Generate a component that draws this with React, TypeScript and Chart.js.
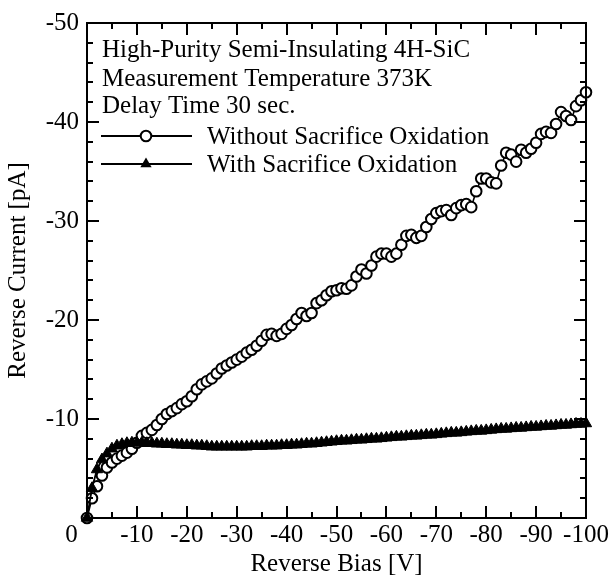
import React, { useEffect, useRef } from 'react';
import { Chart, registerables } from 'chart.js';

Chart.register(...registerables);

const FONT = '"Liberation Serif", "Times New Roman", serif';

const biasV = [
  0, 1, 2, 3, 4, 5, 6, 7, 8, 9,
  10, 11, 12, 13, 14, 15, 16, 17, 18, 19,
  20, 21, 22, 23, 24, 25, 26, 27, 28, 29,
  30, 31, 32, 33, 34, 35, 36, 37, 38, 39,
  40, 41, 42, 43, 44, 45, 46, 47, 48, 49,
  50, 51, 52, 53, 54, 55, 56, 57, 58, 59,
  60, 61, 62, 63, 64, 65, 66, 67, 68, 69,
  70, 71, 72, 73, 74, 75, 76, 77, 78, 79,
  80, 81, 82, 83, 84, 85, 86, 87, 88, 89,
  90, 91, 92, 93, 94, 95, 96, 97, 98, 99,
  100,
];

const currentWithout = [
  0, 2.0, 3.2, 4.3, 5.1, 5.6, 6.0, 6.3, 6.6, 7.0,
  7.6, 8.3, 8.6, 8.9, 9.4, 10.0, 10.5, 10.8, 11.1, 11.5,
  11.8, 12.3, 13.0, 13.5, 13.8, 14.1, 14.6, 15.1, 15.4, 15.7,
  16.0, 16.3, 16.7, 17.0, 17.4, 17.9, 18.5, 18.6, 18.4, 18.6,
  19.1, 19.5, 20.1, 20.7, 20.4, 20.7, 21.7, 22.0, 22.5, 22.9,
  23.0, 23.2, 23.15, 23.5, 24.4, 25.1, 24.7, 25.5, 26.4, 26.7,
  26.7, 26.4, 26.7, 27.6, 28.5, 28.6, 28.3, 28.5, 29.4, 30.2,
  30.8, 31.0, 31.1, 30.6, 31.3, 31.6, 31.7, 31.4, 33.0, 34.3,
  34.3, 33.9, 33.8, 35.6, 36.9, 36.7, 36.0, 37.2, 36.9, 37.3,
  37.9, 38.8, 39.0, 38.9, 39.8, 41.0, 40.6, 40.2, 41.6, 42.2,
  43.0,
];

const currentWith = [
  0, 3.0, 4.9, 5.9, 6.5, 7.0, 7.3, 7.45, 7.55, 7.6,
  7.6, 7.6, 7.55, 7.55, 7.5, 7.5, 7.45, 7.45, 7.4, 7.4,
  7.35, 7.35, 7.3, 7.3, 7.25, 7.2, 7.2, 7.2, 7.2, 7.2,
  7.2, 7.2, 7.2, 7.25, 7.25, 7.25, 7.3, 7.3, 7.3, 7.35,
  7.35, 7.4, 7.4, 7.45, 7.5, 7.5, 7.55, 7.6, 7.65, 7.7,
  7.75, 7.8, 7.8, 7.85, 7.9, 7.9, 7.95, 8.0, 8.0, 8.05,
  8.1, 8.15, 8.2, 8.2, 8.25, 8.3, 8.3, 8.35, 8.4, 8.4,
  8.45, 8.5, 8.55, 8.6, 8.6, 8.65, 8.7, 8.75, 8.8, 8.8,
  8.85, 8.9, 8.95, 9.0, 9.0, 9.05, 9.1, 9.1, 9.15, 9.2,
  9.2, 9.25, 9.3, 9.3, 9.35, 9.4, 9.4, 9.45, 9.5, 9.5,
  9.55,
];

const xTickValues = [0, 10, 20, 30, 40, 50, 60, 70, 80, 90, 100];
const xTickLabels = ['0     ', '-10', '-20', '-30', '-40', '-50', '-60', '-70', '-80', '-90', '-100'];
const yTickValues = [0, 10, 20, 30, 40, 50];
const yTickLabels = ['', '-10', '-20', '-30', '-40', '-50'];

const annotationLines = [
  'High-Purity Semi-Insulating 4H-SiC',
  'Measurement Temperature 373K',
  'Delay Time 30 sec.',
];
const seriesNames = ['Without Sacrifice Oxidation', 'With Sacrifice Oxidation'];

function drawTriangle(ctx: CanvasRenderingContext2D, x: number, y: number, r: number) {
  ctx.beginPath();
  let rad = 0;
  ctx.moveTo(x + Math.sin(rad) * r, y - Math.cos(rad) * r);
  rad += (2 * Math.PI) / 3;
  ctx.lineTo(x + Math.sin(rad) * r, y - Math.cos(rad) * r);
  rad += (2 * Math.PI) / 3;
  ctx.lineTo(x + Math.sin(rad) * r, y - Math.cos(rad) * r);
  ctx.closePath();
  ctx.fill();
}

const framePlugin = {
  id: 'frameAndLegend',
  afterDraw(chart: any) {
    const ctx: CanvasRenderingContext2D = chart.ctx;
    const { left, right, top, bottom } = chart.chartArea;
    const xs = chart.scales.x;
    const ys = chart.scales.y;
    ctx.save();
    ctx.strokeStyle = '#000';
    ctx.fillStyle = '#000';
    ctx.lineWidth = 2;
    ctx.strokeRect(left, top, right - left, bottom - top);
    ctx.beginPath();
    for (let v = 0; v <= 100; v += 5) {
      const px = Math.round(xs.getPixelForValue(v));
      const len = v % 10 === 0 ? 12 : 6;
      ctx.moveTo(px, bottom);
      ctx.lineTo(px, bottom - len);
      ctx.moveTo(px, top);
      ctx.lineTo(px, top + len);
    }
    for (let v = 0; v <= 50; v += 2) {
      const py = Math.round(ys.getPixelForValue(v));
      const len = v % 10 === 0 ? 12 : 6;
      ctx.moveTo(left, py);
      ctx.lineTo(left + len, py);
      ctx.moveTo(right, py);
      ctx.lineTo(right - len, py);
    }
    ctx.stroke();

    // annotation text
    ctx.font = `25px ${FONT}`;
    ctx.textAlign = 'left';
    ctx.textBaseline = 'alphabetic';
    const baselines = [57, 86, 113];
    annotationLines.forEach((t, i) => ctx.fillText(t, 102, baselines[i]));

    // legend rows
    const rows = [136, 164];
    const textBase = [144, 172];
    rows.forEach((y, i) => {
      ctx.lineWidth = 1.8;
      ctx.beginPath();
      ctx.moveTo(101, y);
      ctx.lineTo(192, y);
      ctx.stroke();
      if (i === 0) {
        ctx.beginPath();
        ctx.arc(146, y, 5.3, 0, Math.PI * 2);
        ctx.fillStyle = '#fff';
        ctx.fill();
        ctx.lineWidth = 2;
        ctx.stroke();
        ctx.fillStyle = '#000';
      } else {
        drawTriangle(ctx, 146, y, 6.5);
      }
      ctx.fillText(seriesNames[i], 207, textBase[i]);
    });
    ctx.restore();
  },
};

export default function App() {
  const ref = useRef<HTMLCanvasElement | null>(null);
  useEffect(() => {
    document.body.style.margin = '0';
    const canvas = ref.current;
    if (!canvas) return;
    const withoutPts = biasV.map((x, i) => ({ x, y: currentWithout[i] }));
    const withPts = biasV.map((x, i) => ({ x, y: currentWith[i] }));
    const chart = new Chart(canvas, {
      type: 'line',
      data: {
        datasets: [
          {
            label: seriesNames[1],
            data: withPts,
            borderColor: '#000',
            backgroundColor: '#000',
            borderWidth: 1.8,
            pointStyle: 'triangle',
            pointRadius: 6.5,
            pointBackgroundColor: '#000',
            pointBorderColor: '#000',
            pointBorderWidth: 1,
            tension: 0,
            clip: false as any,
          },
          {
            label: seriesNames[0],
            data: withoutPts,
            borderColor: '#000',
            backgroundColor: '#fff',
            borderWidth: 1.6,
            pointStyle: 'circle',
            pointRadius: 5.3,
            pointBackgroundColor: '#fff',
            pointBorderColor: '#000',
            pointBorderWidth: 2,
            tension: 0,
            clip: false as any,
          },
        ],
      },
      options: {
        responsive: false,
        animation: false,
        events: [],
        layout: { padding: { top: 20, right: 27, left: 0, bottom: 0 } },
        plugins: { legend: { display: false }, tooltip: { enabled: false } },
        scales: {
          x: {
            type: 'linear',
            min: 0,
            max: 100,
            afterFit: (s: any) => { s.height = 60; },
            afterBuildTicks: (s: any) => { s.ticks = xTickValues.map((v) => ({ value: v })); },
            grid: { display: false, drawTicks: false },
            border: { display: false },
            ticks: {
              autoSkip: false,
              maxRotation: 0,
              padding: 2,
              color: '#000',
              font: { family: FONT, size: 25 },
              callback: (v: any) => {
                const i = xTickValues.indexOf(Number(v));
                return i >= 0 ? xTickLabels[i] : '';
              },
            },
            title: {
              display: true,
              text: 'Reverse Bias [V]',
              color: '#000',
              font: { family: FONT, size: 25, lineHeight: 1 },
              padding: { top: 0, bottom: 1 },
            },
          },
          y: {
            type: 'linear',
            min: 0,
            max: 50,
            afterFit: (s: any) => { s.width = 87; },
            afterBuildTicks: (s: any) => { s.ticks = yTickValues.map((v) => ({ value: v })); },
            grid: { display: false, drawTicks: false },
            border: { display: false },
            ticks: {
              autoSkip: false,
              padding: 8,
              color: '#000',
              font: { family: FONT, size: 25 },
              callback: (v: any) => {
                const i = yTickValues.indexOf(Number(v));
                return i >= 0 ? yTickLabels[i] : '';
              },
            },
            title: {
              display: true,
              text: 'Reverse Current [pA]',
              color: '#000',
              font: { family: FONT, size: 25, lineHeight: 1 },
              padding: { top: 5.5, bottom: 0 },
            },
          },
        },
      },
      plugins: [framePlugin],
    });
    return () => chart.destroy();
  }, []);
  return (
    <div style={{ position: 'fixed', left: 0, top: 0, width: 613, height: 578, background: '#fff' }}>
      <canvas ref={ref} width={613} height={578} style={{ display: 'block', width: 613, height: 578 }} />
    </div>
  );
}
